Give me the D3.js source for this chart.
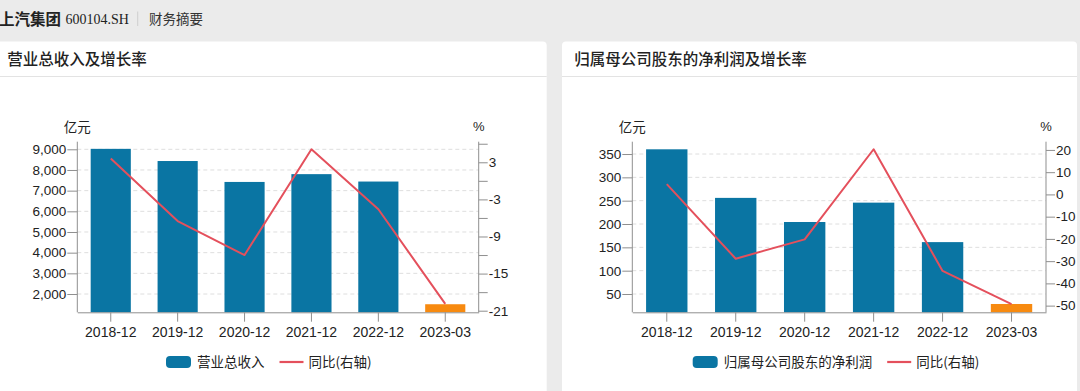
<!DOCTYPE html>
<html><head><meta charset="utf-8">
<script src="https://cdn.jsdelivr.net/npm/d3@7"></script>
<style>
body{margin:0;background:#ebebeb;width:1080px;height:391px;overflow:hidden;}
svg{display:block;font-family:"Liberation Sans",Arial,"Noto Sans CJK SC",sans-serif;}
</style></head><body>
<svg id="c" width="1080" height="391"></svg>
<script>
// ---- data ----
const categories = ["2018-12","2019-12","2020-12","2021-12","2022-12","2023-03"];
const revenue = [9021.9, 8433.2, 7421.3, 7798.5, 7440.6, 1505.0];
const revenueYoY = [3.6, -6.5, -12.0, 5.1, -4.6, -19.9];
const netProfit = [360.1, 256.0, 204.3, 245.8, 161.2, 28.6];
const netProfitYoY = [4.6, -28.9, -20.2, 20.3, -34.4, -49.3];
const revenueTicks = [2000,3000,4000,5000,6000,7000,8000,9000];
const revenueYoYTicks = [-21,-18,-15,-12,-9,-6,-3,0,3,6];
const revenueYoYLabels = [-21,-15,-9,-3,3];
const netProfitTicks = [50,100,150,200,250,300,350];
const netProfitYoYTicks = [-50,-40,-30,-20,-10,0,10,20];
const netProfitYoYLabels = [-50,-40,-30,-20,-10,0,10,20];
const revenueDomain = [1115, 9368];
const revenueYoYDomain = [-21.26, 6.33];
const netProfitDomain = [10.8, 376.4];
const netProfitYoYDomain = [-53.0, 23.7];

const BLUE = "#0a75a3", ORANGE = "#f78a10", RED = "#e4505c", AXIS = "#8f8f8f", TXT = "#222";
const CJK = "'Noto Sans CJK SC','Liberation Sans',sans-serif";

const svg = d3.select("#c");

// ---- header ----
const hdr = svg.append("g");
hdr.append("text").attr("x", -1).attr("y", 24.5).attr("font-family", CJK).attr("font-size", 15.5)
  .attr("font-weight", 700).attr("fill", "#222").text("上汽集团");
hdr.append("text").attr("x", 65.5).attr("y", 24).attr("font-family", "'Liberation Serif','DejaVu Serif',serif")
  .attr("font-size", 14).attr("fill", "#222").text("600104.SH");
hdr.append("line").attr("x1", 137.7).attr("x2", 137.7).attr("y1", 11.5).attr("y2", 26).attr("stroke", "#cfcfcf");
hdr.append("text").attr("x", 149).attr("y", 24).attr("font-family", CJK).attr("font-size", 13.5)
  .attr("fill", "#333").text("财务摘要");

const plotTop = 141.7, plotBottom = 312.3;

const panels = [
  {px0: -6, px1: 546.7, title: "营业总收入及增长率", titleX: 7.3,
   left: 77.3, right: 478.7, bars: revenue, line: revenueYoY,
   yDom: revenueDomain, y2Dom: revenueYoYDomain, yTicks: revenueTicks,
   y2Ticks: revenueYoYTicks, y2Labels: revenueYoYLabels,
   legendName: "营业总收入", legendX: 166},
  {px0: 562, px1: 1077, title: "归属母公司股东的净利润及增长率", titleX: 574.3,
   left: 632.3, right: 1046, bars: netProfit, line: netProfitYoY,
   yDom: netProfitDomain, y2Dom: netProfitYoYDomain, yTicks: netProfitTicks,
   y2Ticks: netProfitYoYTicks, y2Labels: netProfitYoYLabels,
   legendName: "归属母公司股东的净利润", legendX: 692.7}
];

panels.forEach(p => {
  const g = svg.append("g");
  // panel card
  g.append("rect").attr("x", p.px0).attr("y", 41.5).attr("width", p.px1 - p.px0).attr("height", 360)
    .attr("rx", 4).attr("fill", "#fff");
  g.append("line").attr("x1", p.px0).attr("x2", p.px1).attr("y1", 76.5).attr("y2", 76.5)
    .attr("stroke", "#e3e3e3").attr("stroke-width", 1.2);
  g.append("text").attr("x", p.titleX).attr("y", 64.5).attr("font-family", CJK).attr("font-size", 15.5)
    .attr("font-weight", 500).attr("fill", "#222").text(p.title);

  const x = d3.scaleBand().domain(categories).range([p.left, p.right]).paddingInner(0.4).paddingOuter(0.2);
  const y = d3.scaleLinear().domain(p.yDom).range([plotBottom, plotTop]);
  const y2 = d3.scaleLinear().domain(p.y2Dom).range([plotBottom, plotTop]);

  // grid
  g.append("g").selectAll("line").data(p.yTicks).join("line")
    .attr("x1", p.left).attr("x2", p.right)
    .attr("y1", d => y(d)).attr("y2", d => y(d))
    .attr("stroke", "#dedede").attr("stroke-dasharray", "4 3");

  // bars
  g.append("g").selectAll("rect").data(p.bars).join("rect")
    .attr("x", (d, i) => x(categories[i]))
    .attr("width", x.bandwidth())
    .attr("y", d => y(d))
    .attr("height", d => plotBottom - y(d))
    .attr("fill", (d, i) => i === categories.length - 1 ? ORANGE : BLUE);

  // axes
  const ax = g.append("g").attr("transform", `translate(${p.left},0)`)
    .call(d3.axisLeft(y).tickValues(p.yTicks).tickSize(10).tickPadding(1).tickSizeOuter(0).tickFormat(d3.format(",")));
  const ax2 = g.append("g").attr("transform", `translate(${p.right},0)`)
    .call(d3.axisRight(y2).tickValues(p.y2Ticks).tickSize(9).tickPadding(1).tickSizeOuter(0)
      .tickFormat(d => p.y2Labels.includes(d) ? String(d) : ""));
  const axb = g.append("g").attr("transform", `translate(0,${plotBottom})`)
    .call(d3.axisBottom(x).tickSize(9.4).tickPadding(5.3).tickSizeOuter(0));
  [ax, ax2, axb].forEach(a => {
    a.select(".domain").attr("stroke", AXIS);
    a.selectAll(".tick line").attr("stroke", AXIS);
    a.selectAll("text").attr("fill", TXT).attr("font-size", 13.5)
      .attr("font-family", "'Liberation Sans',Arial,sans-serif");
  });
  axb.selectAll("text").attr("font-size", 14);
  ax.select(".domain").attr("d", `M0,${plotTop}V${plotBottom}`);
  ax2.select(".domain").attr("d", `M0,${plotTop}V${plotBottom}`);

  // units
  g.append("text").attr("x", p.left).attr("y", 131.5).attr("text-anchor", "middle")
    .attr("font-family", CJK).attr("font-size", 13.5).attr("fill", TXT).text("亿元");
  g.append("text").attr("x", p.right).attr("y", 130.5).attr("text-anchor", "middle")
    .attr("font-size", 13).attr("fill", TXT).text("%");

  // line
  const lineGen = d3.line()
    .x((d, i) => x(categories[i]) + x.bandwidth() / 2)
    .y(d => y2(d));
  g.append("path").datum(p.line).attr("d", lineGen)
    .attr("fill", "none").attr("stroke", RED).attr("stroke-width", 2).attr("stroke-linejoin", "round");

  // legend
  const lg = g.append("g").attr("transform", `translate(${p.legendX},362)`);
  lg.append("rect").attr("x", 0).attr("y", -6).attr("width", 25).attr("height", 12).attr("rx", 4).attr("fill", BLUE);
  const t1 = lg.append("text").attr("x", 31).attr("y", 5).attr("font-family", CJK).attr("font-size", 13.5)
    .attr("fill", TXT).text(p.legendName);
  const w1 = t1.node().getComputedTextLength();
  const lx = 31 + w1 + 15;
  lg.append("line").attr("x1", lx).attr("x2", lx + 24).attr("y1", 0).attr("y2", 0)
    .attr("stroke", RED).attr("stroke-width", 2.2);
  lg.append("text").attr("x", lx + 29).attr("y", 5).attr("font-family", CJK).attr("font-size", 13.5)
    .attr("fill", TXT).text("同比(右轴)");
});
</script>
</body></html>
